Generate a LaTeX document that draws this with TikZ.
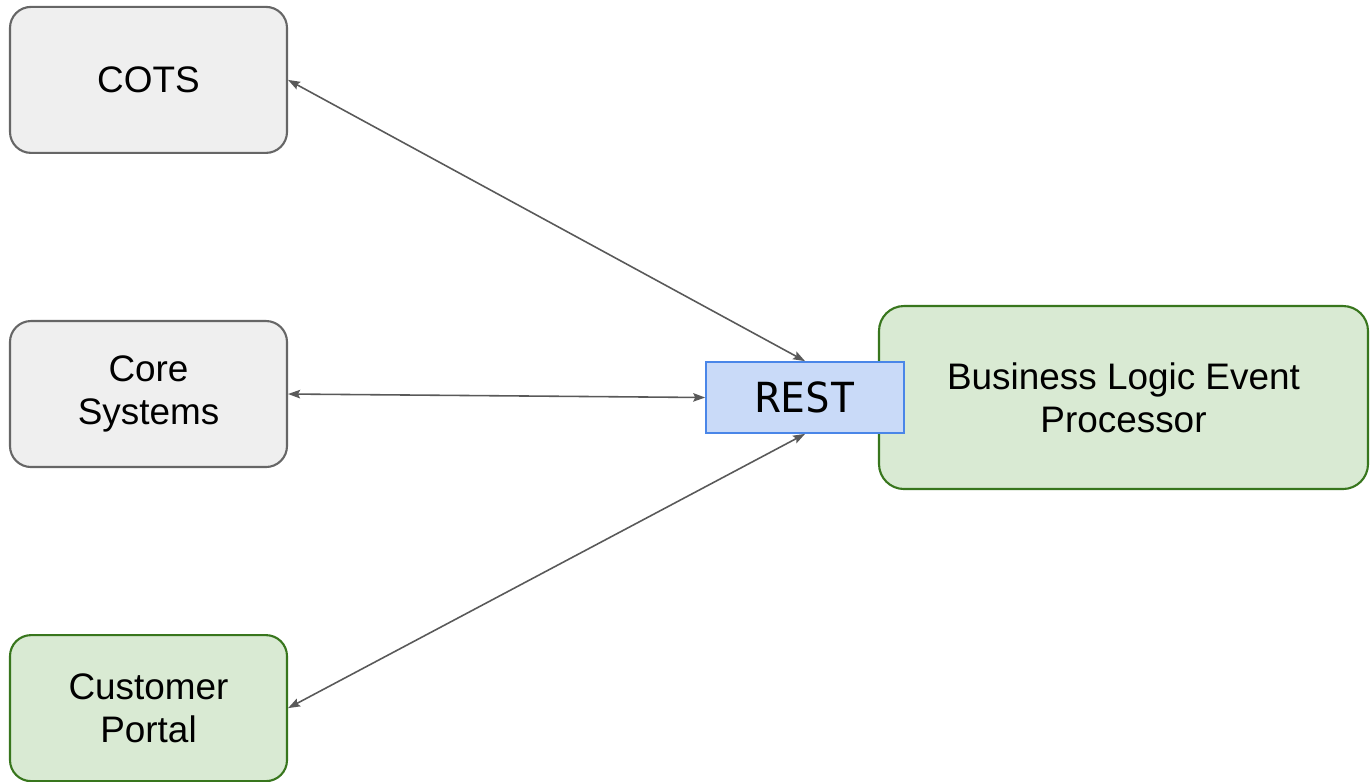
\documentclass[tikz,border=0pt]{standalone}
\usepackage{fontspec}
\setmainfont{Liberation Sans}
\newfontfamily\restfont{DejaVu Sans Mono}
\usetikzlibrary{positioning,arrows.meta}

\definecolor{sysfill}{HTML}{EFEFEF}
\definecolor{sysdraw}{HTML}{666666}
\definecolor{appfill}{HTML}{D9EAD3}
\definecolor{appdraw}{HTML}{38761D}
\definecolor{apifill}{HTML}{C9DAF8}
\definecolor{apidraw}{HTML}{4A86E8}
\definecolor{linkgray}{HTML}{595959}

\begin{document}
\begin{tikzpicture}[
  font=\fontsize{10.5}{12.3}\selectfont,>={Stealth[length=1.2mm,width=0.85mm,inset=0.2mm]},
  box/.style={draw,line width=0.6pt,rounded corners=0.21cm,minimum width=2.77cm,minimum height=1.46cm,align=center,inner sep=0pt},
  sys/.style={box,fill=sysfill,draw=sysdraw},
  app/.style={box,fill=appfill,draw=appdraw},
  api/.style={draw=apidraw,fill=apifill,line width=0.5pt,minimum width=1.98cm,minimum height=0.71cm,inner sep=0pt,
    font=\restfont\fontsize{11.8}{13}\selectfont},
  link/.style={<->,line width=0.45pt,linkgray},
]
\useasboundingbox (0,0) rectangle (13.71,-7.81);
\node[sys] (core) at (1.485,-3.94) {Core\\Systems};
\node[sys,above=1.66cm of core] (cots) {COTS};
\node[app,below=1.66cm of core] (portal) {Customer\\Portal};
\node[app,rounded corners=0.25cm,minimum width=4.89cm,minimum height=1.83cm] (bep) at (11.235,-3.975)
  {Business Logic Event\\Processor};
\node[api,left=-0.27cm of bep] (rest) {REST};

\draw[link] (cots.east) -- (rest.north);
\draw[link] (core.east) -- (rest.west);
\draw[link] (portal.east) -- (rest.south);
\end{tikzpicture}
\end{document}
